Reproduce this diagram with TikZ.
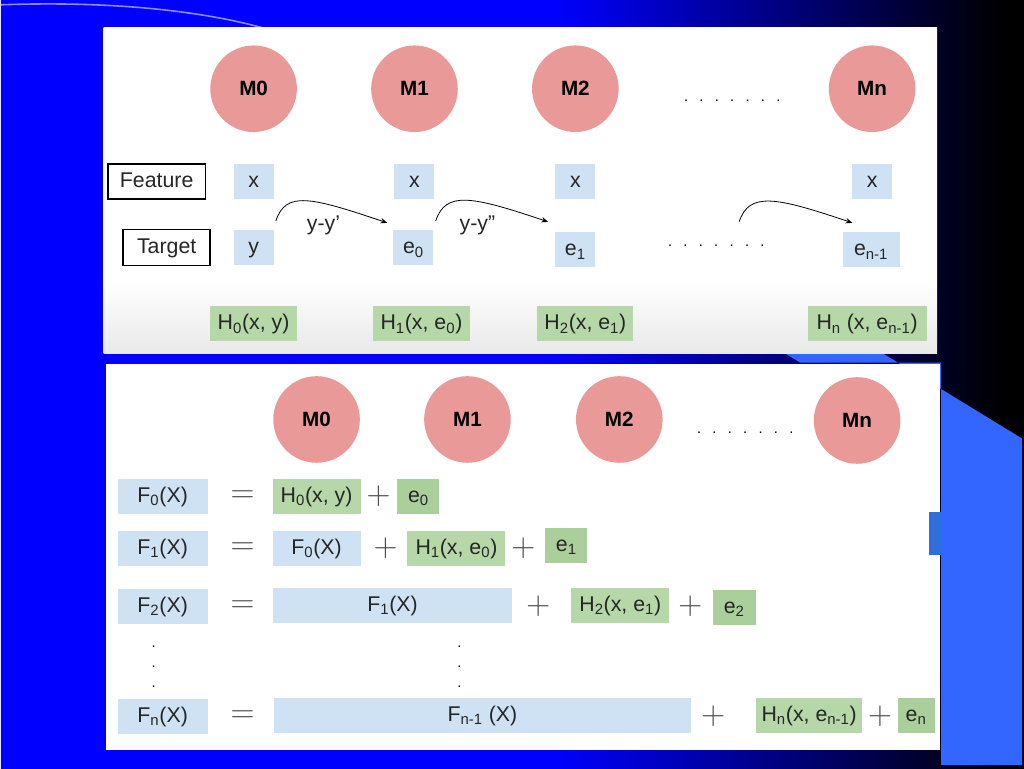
\documentclass[tikz,border=0pt]{standalone}
\usepackage{fontspec}
\setmainfont{Liberation Sans}
\usetikzlibrary{arrows.meta}

\definecolor{modelred}{HTML}{EA9999}
\definecolor{featblue}{HTML}{CFE2F3}
\definecolor{hypgreen}{HTML}{B6D7A8}
\definecolor{errgreen}{HTML}{AACF9B}
\definecolor{slideblue}{HTML}{3366FF}
\definecolor{tabblue}{HTML}{2F6FDB}
\pgfdeclarehorizontalshading{slidebg}{100bp}{color(0bp)=(blue); color(25bp)=(blue); color(52bp)=(blue); color(74bp)=(black); color(100bp)=(black)}
\pgfdeclareverticalshading{panelfade}{100bp}{color(0bp)=(black!9); color(25bp)=(black!9); color(36bp)=(white); color(100bp)=(white)}

\newcommand\boxh{26.25pt}
\newcommand\dotgap{\hspace{8.5pt}}
\newcommand\dotrow{.\dotgap.\dotgap.\dotgap.\dotgap.\dotgap.\dotgap.}
\newcommand\vdotcol{.\\.\\.}

\tikzset{
  model/.style={circle, fill=modelred, minimum size=65pt, inner sep=0pt, font=\bfseries\fontsize{15.5}{15.5}\selectfont},
  cell/.style={minimum height=\boxh, inner sep=0pt, text height=12.5pt, text depth=3.5pt, font=\fontsize{16}{16}\selectfont, text=black!85},
  xcell/.style={cell, fill=featblue, minimum width=30pt},
  fcell/.style={cell, fill=featblue},
  hcell/.style={cell, fill=hypgreen},
  ecell/.style={cell, fill=errgreen},
  tag/.style={cell, draw=black, line width=1.2pt, fill=white},
  op/.style={font=\fontsize{28}{28}\selectfont, text=black!70, inner sep=0pt},
  lbl/.style={font=\fontsize{16}{16}\selectfont, text=black!85},
  dots/.style={font=\fontsize{11}{15}\selectfont, align=center},
  flow/.style={-{Stealth[length=5pt,width=4pt]}, line width=0.6pt}
}

\begin{document}
\begin{tikzpicture}[x=0.75pt, y=-0.75pt]
    % slide background
    \shade[shading=slidebg] (0,0) rectangle (1024,768);
    \draw[white!55!blue, line width=1.2pt] (0,4) .. controls (110,0) and (200,10) .. (262,27);
    \fill[slideblue] (780,350) -- (878,350) -- (1022,438) -- (1022,765) -- (941,765) -- (941,362) -- (800,362) -- cycle;

    % top panel
    \shade[shading=panelfade] (103,27) rectangle (937,353);

    \node[model] (m0) at (253,88) {M0};
    \node[model] (m1) at (414,88) {M1};
    \node[model] (m2) at (575,88) {M2};
    \node[model] (mn) at (872,88) {Mn};
    \node[dots] (mdots) at (732,100) {\dotrow};

    \node[tag, minimum width=73.5pt] (feature) at (156,181) {Feature};
    \node[tag, minimum width=65.25pt, minimum height=27pt] (target) at (166,247) {Target};

    \node[xcell] (x0) at (253,181) {x};
    \node[xcell] (x1) at (414,181) {x};
    \node[xcell] (x2) at (575,181) {x};
    \node[xcell] (xn) at (872,181) {x};

    \node[xcell] (t0) at (253,247) {y};
    \node[xcell] (e0) at (413,247) {e\textsubscript{0}};
    \node[xcell] (e1) at (575,249) {e\textsubscript{1}};
    \node[xcell, minimum width=42.75pt] (en1) at (871,249) {e\textsubscript{n-1}};
    \node[dots] (edots) at (716,245) {\dotrow};

    \coordinate (gap) at (739,221);
    \draw[flow] ([shift={(2,-9)}]t0.north east) .. controls +(10,-30) and +(-77,-26) .. ([shift={(-6,-7)}]e0.north west);
    \draw[flow] ([shift={(2,-9)}]e0.north east) .. controls +(10,-30) and +(-77,-26) .. ([shift={(-7,-10)}]e1.north west);
    \draw[flow] (gap) .. controls +(10,-30) and +(-77,-26) .. ([shift={(10,-9)}]en1.north west);
    \node[lbl] (d0) at (323,225) {y-y’};
    \node[lbl] (d1) at (477,225) {y-y”};

    \node[hcell, minimum width=65.25pt] (h0) at (253,323) {H\textsubscript{0}(x, y)};
    \node[hcell, minimum width=72.75pt] (h1) at (421,323) {H\textsubscript{1}(x, e\textsubscript{0})};
    \node[hcell, minimum width=72pt] (h2) at (585,323) {H\textsubscript{2}(x, e\textsubscript{1})};
    \node[hcell, minimum width=89.25pt] (hn) at (867,323) {H\textsubscript{n} (x, e\textsubscript{n-1})};

    % bottom panel
    \fill[white] (105,363) rectangle (940,750);
    \fill[tabblue] (929,512) rectangle (941,555);

    \node[model] (bm0) at (316,419) {M0};
    \node[model] (bm1) at (467,419) {M1};
    \node[model] (bm2) at (619,419) {M2};
    \node[model] (bmn) at (857,420) {Mn};
    \node[dots] (bmdots) at (745,432) {\dotrow};

    \node[fcell, minimum width=67.5pt] (f0) at (162,496) {F\textsubscript{0}(X)};
    \node[op] (eq0) at (242,496) {$=$};
    \node[hcell, minimum width=66pt] (f0h) at (316,496) {H\textsubscript{0}(x, y)};
    \node[op] (f0p1) at (378,496) {$+$};
    \node[ecell, minimum width=31.5pt] (f0e) at (418,496) {e\textsubscript{0}};

    \node[fcell, minimum width=67.5pt] (f1) at (162,548) {F\textsubscript{1}(X)};
    \node[op] (eq1) at (242,548) {$=$};
    \node[fcell, minimum width=66pt] (f1f) at (316,548) {F\textsubscript{0}(X)};
    \node[op] (f1p1) at (385,548) {$+$};
    \node[hcell, minimum width=73.5pt] (f1h) at (456,548) {H\textsubscript{1}(x, e\textsubscript{0})};
    \node[op] (f1p2) at (523,548) {$+$};
    \node[ecell, minimum width=31.5pt] (f1e) at (566,545) {e\textsubscript{1}};

    \node[fcell, minimum width=67.5pt] (f2) at (162,606) {F\textsubscript{2}(X)};
    \node[op] (eq2) at (242,606) {$=$};
    \node[fcell, minimum width=180pt] (f2f) at (392,605) {F\textsubscript{1}(X)};
    \node[op] (f2p1) at (538,606) {$+$};
    \node[hcell, minimum width=73.5pt] (f2h) at (620,605) {H\textsubscript{2}(x, e\textsubscript{1})};
    \node[op] (f2p2) at (690,606) {$+$};
    \node[ecell, minimum width=32.25pt] (f2e) at (734,607) {e\textsubscript{2}};

    \node[dots] (fdots) at (153,666) {\vdotcol};
    \node[dots] (ffdots) at (459,666) {\vdotcol};

    \node[fcell, minimum width=67.5pt] (fn) at (162,716) {F\textsubscript{n}(X)};
    \node[op] (eqn) at (242,716) {$=$};
    \node[fcell, minimum width=313.5pt] (fnf) at (482,715) {F\textsubscript{n-1} (X)};
    \node[op] (fnp1) at (713,716) {$+$};
    \node[hcell, minimum width=79.5pt] (fnh) at (809,715) {H\textsubscript{n}(x, e\textsubscript{n-1})};
    \node[op] (fnp2) at (880,716) {$+$};
    \node[ecell, minimum width=27.75pt] (fne) at (916,715) {e\textsubscript{n}};
\end{tikzpicture}
\end{document}
